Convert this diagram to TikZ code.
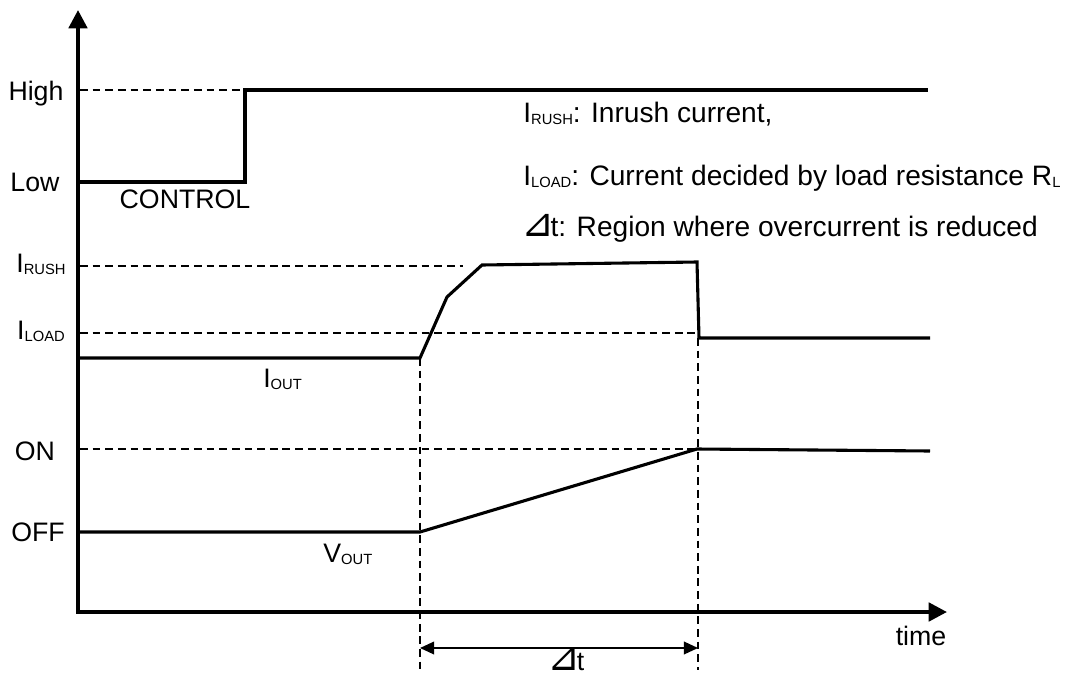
\documentclass[tikz,border=0pt]{standalone}
\usepackage{fontspec}
\setmainfont{Liberation Sans}
\newfontfamily\symfont{DejaVu Sans}
\usetikzlibrary{arrows.meta}
\newcommand{\lsub}[1]{\raisebox{-1.5pt}{\fontsize{10.5}{11}\selectfont #1}}
\newcommand{\dtri}{{\symfont\fontsize{28}{28}\selectfont\kern-1.5pt\char"22BF\kern-2.5pt}}
\begin{document}
\begin{tikzpicture}[x=0.025cm, y=-0.025cm,
  txt/.style={font=\fontsize{19}{22}\selectfont, inner sep=0pt},
  legend/.style={font=\fontsize{20}{23}\selectfont, inner sep=0pt, anchor=base west},
  sig/.style={line width=2.2pt, line join=miter},
  guide/.style={line width=0.9pt, dash pattern=on 5.5pt off 3.5pt},
  axis/.style={line width=2.8pt, {Triangle[length=13pt,width=13pt]}-{Triangle[length=13pt,width=13pt]}},
  span/.style={line width=1.1pt, {Triangle[length=10pt,width=9pt]}-{Triangle[length=10pt,width=9pt]}}]
  \useasboundingbox (0,0) rectangle (1066,678);
  % guide lines
  \draw[guide] (80,90) -- (243,90);
  \draw[guide] (80,266) -- (463,266);
  \draw[guide] (80,333) -- (697,333);
  \draw[guide] (80,449) -- (697,449);
  \draw[guide] (420,358) -- (420,670);
  \draw[guide] (698,338) -- (698,670);
  % signals
  \draw[sig] (80,182) -- (245,182) -- (245,90) -- (928,90);
  \draw[sig] (80,358) -- (420,358) -- (447,297) -- (482,265) -- (697,262) -- (699,338) -- (930,338);
  \draw[sig] (80,532) -- (420,532) -- (697,449) -- (930,451);
  % axes
  \draw[axis] (78,10) -- (78,612) -- (947,612);
  % level labels
  \node[txt, anchor=base] (high) at (36,100) {High};
  \node[txt, anchor=base] (low) at (35,191) {Low};
  \node[txt, anchor=base] (irush) at (41,272) {I\lsub{RUSH}};
  \node[txt, anchor=base] (iload) at (41,339) {I\lsub{LOAD}};
  \node[txt, anchor=base] (on) at (35,460) {ON};
  \node[txt, anchor=base] (off) at (38,541) {OFF};
  % signal names
  \node[txt, anchor=base] (control) at (185,208) {CONTROL};
  \node[txt, anchor=base west] (iout) at (263,387) {I\lsub{OUT}};
  \node[txt, anchor=base west] (vout) at (323,562) {V\lsub{OUT}};
  \node[txt, anchor=base] (time) at (921,645) {time};
  % region
  \coordinate (ds) at (420,648);
  \coordinate (de) at (698,648);
  \draw[span] (ds) -- (de);
  \node[txt, anchor=base] (dt) at (567,670) {\dtri t};
  % legend
  \node[legend] (leg1) at (523,122) {I\lsub{RUSH}: Inrush current,};
  \node[legend] (leg2) at (523,185) {I\lsub{LOAD}: Current decided by load resistance R\lsub{L}};
  \node[legend] (leg3) at (523,236) {\dtri t: Region where overcurrent is reduced};
\end{tikzpicture}
\end{document}
